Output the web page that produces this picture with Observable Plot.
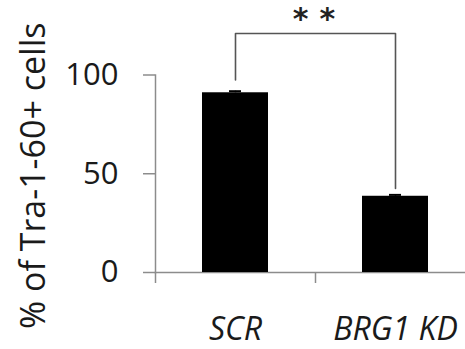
<!DOCTYPE html>
<html><head><meta charset="utf-8">
<script src="https://cdn.jsdelivr.net/npm/d3@7"></script>
<script src="https://cdn.jsdelivr.net/npm/@observablehq/plot@0.6"></script>
<style>body{margin:0;background:#fff} .sig text{letter-spacing:11px}</style>
</head><body><div id="chart"></div>
<script>
const categories = ["SCR", "BRG1 KD"];
const values = [91, 38.6];
const errors = [0.8, 0.7];
const yTicks = [0, 50, 100];
const yLabel = "% of Tra-1-60+ cells";
const bracketTop = 121;
const bracketEnds = [97.5, 42.5];
const sigLabel = "**";
const sigY = 128;

const bars = categories.map((c, i) => ({cat: c, v: values[i], e: errors[i]}));
const bracket = [
  {cat: categories[0], y: bracketEnds[0]},
  {cat: categories[0], y: bracketTop},
  {cat: categories[1], y: bracketTop},
  {cat: categories[1], y: bracketEnds[1]}
];
const FONT = "'Open Sans', sans-serif";
const step = 160;

const chart = Plot.plot({
  width: 465, height: 349,
  marginLeft: 155, marginRight: 0, marginTop: 74.5, marginBottom: 77,
  style: {fontFamily: FONT, background: "#fff", overflow: "visible"},
  x: {domain: categories, range: [155, 155 + 2 * step], paddingInner: 0.5875, paddingOuter: 0.29375, align: 0.5, axis: null},
  y: {domain: [0, 100], axis: null},
  marks: [
    Plot.frame({anchor: "left", stroke: "#8c8c8c", strokeWidth: 1.5}),
    Plot.frame({anchor: "bottom", stroke: "#8c8c8c", strokeWidth: 1.5}),
    Plot.axisY(yTicks, {anchor: "left", tickSize: 12, tickPadding: 25, stroke: "#8c8c8c", strokeWidth: 1.5,
      fontSize: 31, fill: "#1a1a1a", label: null}),
    Plot.text([yLabel], {text: d => d, frameAnchor: "middle", rotate: -90, dx: -276, dy: 2, fontSize: 34, fill: "#1a1a1a"}),
    Plot.axisX({anchor: "bottom", tickSize: 11, tickFormat: () => "", dx: -step / 2, stroke: "#8c8c8c", strokeWidth: 1.5, label: null}),
    Plot.axisX({anchor: "bottom", tickSize: 0, tickPadding: 45, fontSize: 32, fontStyle: "italic", fill: "#1a1a1a", label: null}),
    Plot.barY(bars, {x: "cat", y: "v", fill: "#000"}),
    Plot.ruleX(bars, {x: "cat", y1: "v", y2: d => d.v + d.e, stroke: "#000", strokeWidth: 1.5}),
    Plot.tickY(bars, {x: "cat", y: d => d.v + d.e, stroke: "#000", strokeWidth: 2, insetLeft: 27, insetRight: 27}),
    Plot.line(bracket, {x: "cat", y: "y", stroke: "#555", strokeWidth: 1.6}),
    Plot.text([sigLabel], {text: d => d, y: sigY, frameAnchor: "middle", dx: 9, fontSize: 30, fill: "#222", fontWeight: "bold", fontFamily: "'DejaVu Sans', sans-serif", className: "sig"})
  ]
});
document.getElementById("chart").appendChild(chart);
</script>
</body></html>
